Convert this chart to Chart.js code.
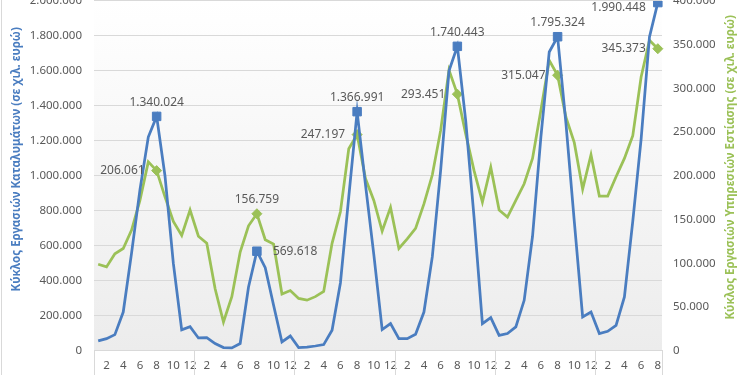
<!DOCTYPE html>
<html>
<head>
<meta charset="utf-8">
<script src="https://cdn.jsdelivr.net/npm/chart.js@4.4.0/dist/chart.umd.min.js"></script>
<style>
  html, body { margin: 0; padding: 0; background: #ffffff; overflow: hidden; }
  #wrap { position: relative; width: 750px; height: 375px; overflow: hidden; background: #ffffff; }
  #chart { position: absolute; left: 0; top: -6.3px; }
</style>
</head>
<body>
<div id="wrap"><canvas id="chart" width="750" height="420"></canvas></div>
<script>
// Categories: months of each year, last year runs to August
const years = [2019, 2020, 2021, 2022, 2023, 2024];
const monthLabels = ['1', '2', '3', '4', '5', '6', '7', '8', '9', '10', '11', '12'];
const lastYearMonths = 8;

// Κύκλος Εργασιών Καταλυμάτων (σε χιλ. ευρώ), left axis
const accommodation = [
  57000, 70000, 93000, 222000, 560000, 920000, 1222000, 1340024, 1000000, 500000, 120000, 138000,
  74000, 76000, 42000, 19000, 17000, 42000, 365000, 569618, 476000, 261000, 51000, 85000,
  19000, 22000, 28000, 36000, 118000, 388000, 880000, 1366991, 950000, 550000, 122000, 156000,
  70000, 70000, 95000, 222000, 537000, 1032000, 1600000, 1740443, 1316000, 763000, 156000, 190000,
  89000, 99000, 137000, 289000, 655000, 1222000, 1708000, 1795324, 1300000, 740000, 194000, 222000,
  99000, 112000, 146000, 308000, 740000, 1210000, 1794000, 1990448
];

// Κύκλος Εργασιών Υπηρεσιών Εστίασης (σε χιλ. ευρώ), right axis
const foodService = [
  99000, 96000, 111000, 117000, 138000, 172000, 216000, 206061, 176000, 148000, 132000, 161000,
  131000, 123000, 71000, 33000, 62000, 113000, 143000, 156759, 127000, 122000, 65000, 69000,
  60000, 58000, 62000, 68000, 123000, 159000, 231000, 247197, 197000, 172000, 137000, 164000,
  117000, 128000, 140000, 168000, 201000, 252000, 321000, 293451, 248000, 206000, 170000, 210000,
  161000, 153000, 172000, 191000, 220000, 275000, 332000, 315047, 267000, 238000, 185000, 224000,
  177000, 177000, 199000, 220000, 246000, 313000, 355000, 345373
];

// Axis ranges
const leftMax = 2000000, leftStep = 200000;
const rightMax = 400000, rightStep = 50000;

// Which side the August labels sit on, one per year
const accLabelSide = ['top', 'right', 'top', 'top', 'top', 'left'];
const foodLabelSide = ['left', 'top', 'left', 'left', 'left', 'left'];

const labels = [];
years.forEach((y, yi) => {
  const n = yi === years.length - 1 ? lastYearMonths : 12;
  for (let m = 0; m < n; m++) labels.push(monthLabels[m]);
});

const BLUE = '#4a7dc0';
const GREEN = '#9bc157';
const GRID = '#d9d9d9';
const TEXT = '#595959';
const FONT = "'Noto Sans', 'DejaVu Sans', sans-serif";

// plot frame in the window: top of the 2.000.000 line and the zero line
const PLOT_TOP = 0.6, PLOT_BOTTOM = 350.6;
let xAxisHeight = 40;

const fmt = v => String(Math.round(v)).replace(/\B(?=(\d{3})+(?!\d))/g, '.');
const isAugust = i => labels[i] === '8';

const decor = {
  id: 'decor',
  beforeDraw(chart) {
    const { ctx, chartArea: a } = chart;
    ctx.save();
    ctx.fillStyle = '#ffffff';
    ctx.fillRect(0, 0, chart.width, chart.height);
    const g = ctx.createLinearGradient(0, a.top, 0, a.bottom);
    g.addColorStop(0, '#ffffff');
    g.addColorStop(1, '#ececec');
    ctx.fillStyle = g;
    ctx.fillRect(a.left, a.top, a.right - a.left, a.bottom - a.top);
    ctx.restore();
  },
  afterDraw(chart) {
    const { ctx, chartArea: a } = chart;
    const off = a.top - PLOT_TOP; // window y -> canvas y
    ctx.save();

    // outer border on the left
    ctx.strokeStyle = GRID;
    ctx.lineWidth = 1;
    ctx.beginPath();
    ctx.moveTo(1.5, 0);
    ctx.lineTo(1.5, chart.height);
    ctx.stroke();

    // year separators in the category area
    const step = (a.right - a.left) / labels.length;
    const cuts = [];
    for (let i = 0; i < labels.length; i += 12) cuts.push(a.left + i * step);
    cuts.push(a.right);
    ctx.beginPath();
    cuts.forEach(x => {
      const px = Math.round(x) + 0.5;
      ctx.moveTo(px, a.bottom);
      ctx.lineTo(px, chart.height);
    });
    ctx.stroke();

    // axis titles
    ctx.font = "bold 11.5px " + FONT;
    ctx.textAlign = 'center';
    ctx.textBaseline = 'middle';
    ctx.fillStyle = BLUE;
    ctx.save();
    ctx.translate(17, 159 + off);
    ctx.rotate(-Math.PI / 2);
    ctx.fillText('Κύκλος Εργασιών Καταλυμάτων (σε χιλ. ευρώ)', 0, 0);
    ctx.restore();
    ctx.fillStyle = GREEN;
    ctx.save();
    ctx.translate(731, 167 + off);
    ctx.rotate(-Math.PI / 2);
    ctx.fillText('Κύκλος Εργασιών Υπηρεσιών Εστίασης (σε χιλ. ευρώ)', 0, 0);
    ctx.restore();

    // data labels for the August points
    ctx.font = "12px " + FONT;
    ctx.fillStyle = TEXT;
    ctx.textBaseline = 'middle';
    const sides = [accLabelSide, foodLabelSide];
    [0, 1].forEach(d => {
      const meta = chart.getDatasetMeta(d);
      const values = chart.data.datasets[d].data;
      let k = 0;
      meta.data.forEach((pt, i) => {
        if (!isAugust(i)) return;
        const side = sides[d][k++];
        let x = pt.x, y = pt.y;
        if (side === 'top') { ctx.textAlign = 'center'; y -= 14; }
        else if (side === 'left') { ctx.textAlign = 'right'; x -= 12; }
        else { ctx.textAlign = 'left'; x += 16; }
        y = Math.max(y, a.top + 7);
        ctx.fillText(fmt(values[i]), x, y);
      });
    });
    ctx.restore();
  }
};

const chart = new Chart(document.getElementById('chart'), {
  type: 'line',
  data: {
    labels: labels,
    datasets: [
      {
        label: 'Καταλύματα',
        data: accommodation,
        yAxisID: 'y',
        borderColor: BLUE,
        backgroundColor: BLUE,
        borderWidth: 2.75,
        tension: 0,
        pointStyle: 'rect',
        pointRadius: c => isAugust(c.dataIndex) ? 6 : 0,
        pointBorderWidth: 1,
        pointBorderColor: BLUE,
        pointBackgroundColor: BLUE
      },
      {
        label: 'Εστίαση',
        data: foodService,
        yAxisID: 'y1',
        borderColor: GREEN,
        backgroundColor: GREEN,
        borderWidth: 2.75,
        tension: 0,
        pointStyle: 'rectRot',
        pointRadius: c => isAugust(c.dataIndex) ? 5 : 0,
        pointBorderWidth: 1,
        pointBorderColor: GREEN,
        pointBackgroundColor: GREEN
      }
    ]
  },
  options: {
    responsive: false,
    animation: false,
    devicePixelRatio: 1,
    layout: { padding: 0 },
    plugins: {
      legend: { display: false },
      tooltip: { enabled: false }
    },
    scales: {
      x: {
        offset: true,
        grid: { display: false, drawTicks: false },
        border: { display: true, color: GRID, width: 1 },
        ticks: {
          autoSkip: false,
          maxRotation: 0,
          padding: 8,
          color: TEXT,
          font: { family: FONT, size: 11.5 },
          callback: function (v, i) { return Number(labels[i]) % 2 === 0 ? labels[i] : ''; }
        },
        afterFit: s => { s.height = xAxisHeight; }
      },
      y: {
        position: 'left',
        min: 0,
        max: leftMax,
        grid: { color: GRID, drawTicks: false, lineWidth: 1 },
        border: { display: false },
        ticks: {
          stepSize: leftStep,
          padding: 12,
          color: TEXT,
          font: { family: FONT, size: 11.5 },
          callback: v => fmt(v)
        },
        afterFit: s => { s.width = 94; }
      },
      y1: {
        position: 'right',
        min: 0,
        max: rightMax,
        grid: { drawOnChartArea: false, drawTicks: false },
        border: { display: false },
        ticks: {
          stepSize: rightStep,
          padding: 11,
          color: TEXT,
          font: { family: FONT, size: 11.5 },
          callback: v => fmt(v)
        },
        afterFit: s => { s.width = 88; }
      }
    }
  },
  plugins: [decor]
});

// size the category band so the plot spans PLOT_TOP..PLOT_BOTTOM in the window
const shift = chart.chartArea.top - PLOT_TOP;
const wantBottom = PLOT_BOTTOM + shift;
xAxisHeight += chart.chartArea.bottom - wantBottom;
chart.update();
document.getElementById('chart').style.top = (-(chart.chartArea.top - PLOT_TOP)) + 'px';
</script>
</body>
</html>
